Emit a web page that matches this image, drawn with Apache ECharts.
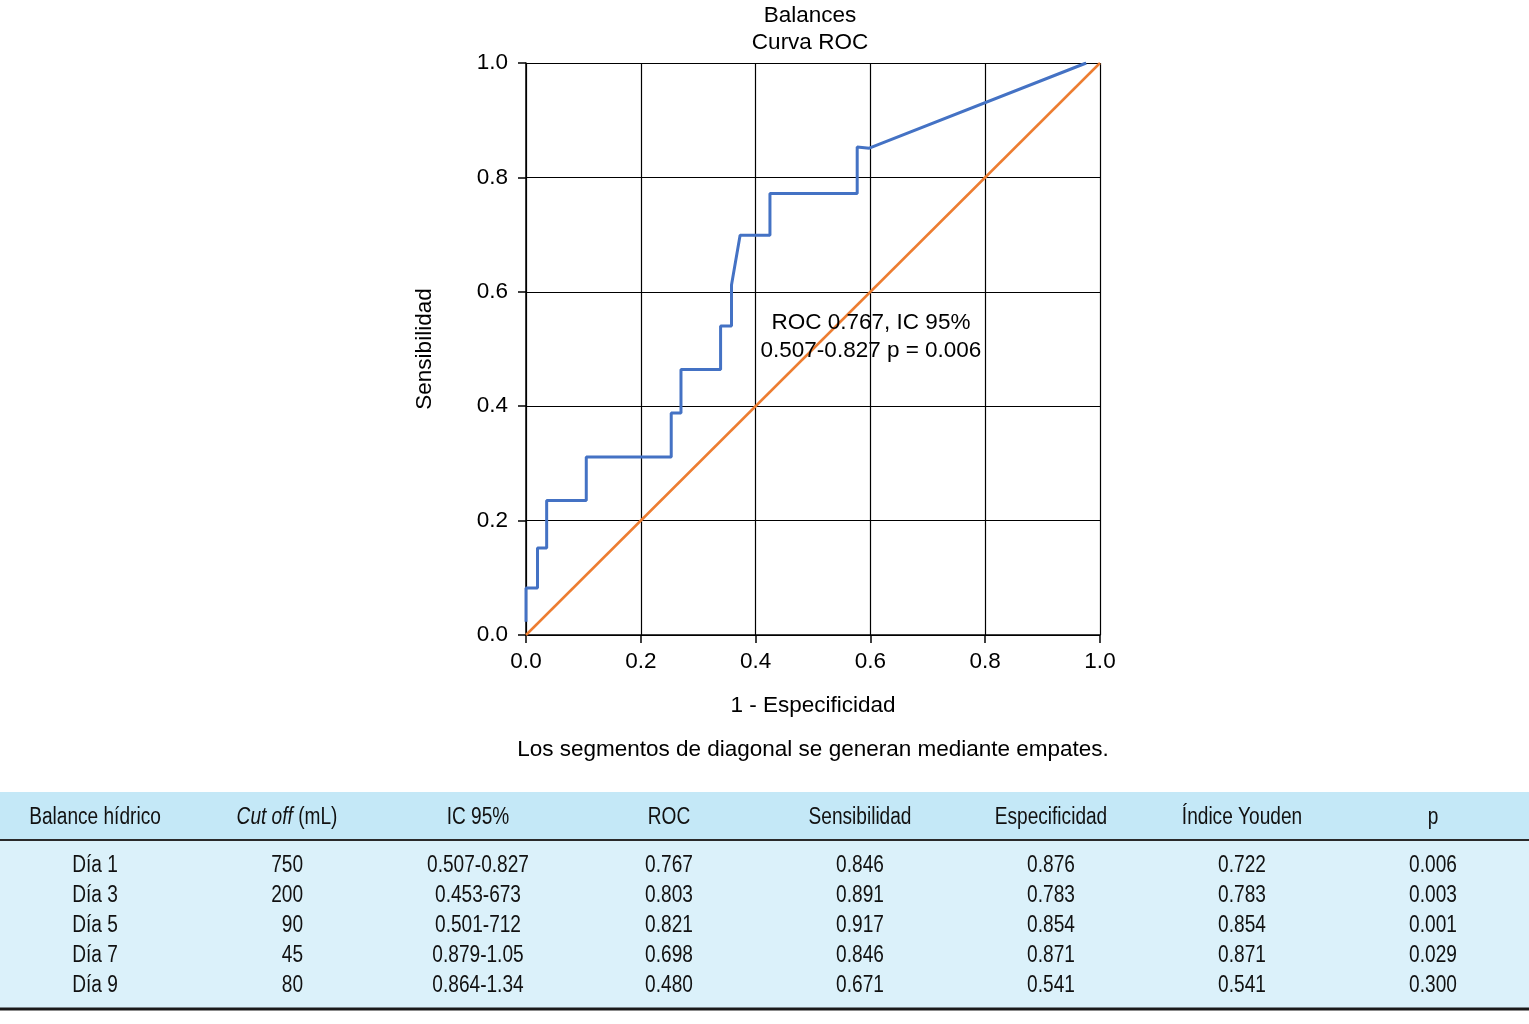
<!DOCTYPE html>
<html><head><meta charset="utf-8">
<script src="https://cdn.jsdelivr.net/npm/echarts@6/dist/echarts.min.js"></script>
<style>html,body{margin:0;padding:0;background:#fff}#c{width:1529px;height:1024px}</style>
</head><body><div id="c"></div>
<script>
// ROC curve points (1 - specificity, sensitivity)
const fpr = [0, 0, 0.020, 0.020, 0.036, 0.036, 0.105, 0.105, 0.253, 0.253, 0.270, 0.270, 0.339, 0.339, 0.358, 0.358, 0.373, 0.425, 0.425, 0.577, 0.577, 0.598, 0.976];
const tpr = [0.023, 0.082, 0.082, 0.152, 0.152, 0.235, 0.235, 0.311, 0.311, 0.388, 0.388, 0.464, 0.464, 0.540, 0.540, 0.612, 0.699, 0.699, 0.772, 0.772, 0.853, 0.851, 1.0];
const diagX = [0, 1];
const diagY = [0, 1];

const titleLines = ['Balances', 'Curva ROC'];
const xName = '1 - Especificidad';
const yName = 'Sensibilidad';
const footnote = 'Los segmentos de diagonal se generan mediante empates.';
const annotLines = ['ROC 0.767, IC 95%', '0.507-0.827 p = 0.006'];
const annotAt = [0.601, 0.522];

// table
const tableHeaders = ['Balance hídrico', 'Cut off (mL)', 'IC 95%', 'ROC', 'Sensibilidad', 'Especificidad', 'Índice Youden', 'p'];
const dias = ['Día 1', 'Día 3', 'Día 5', 'Día 7', 'Día 9'];
const cutoffs = ['750', '200', '90', '45', '80'];
const ic95 = ['0.507-0.827', '0.453-673', '0.501-712', '0.879-1.05', '0.864-1.34'];
const rocVals = ['0.767', '0.803', '0.821', '0.698', '0.480'];
const sensib = ['0.846', '0.891', '0.917', '0.846', '0.671'];
const especif = ['0.876', '0.783', '0.854', '0.871', '0.541'];
const youden = ['0.722', '0.783', '0.854', '0.871', '0.541'];
const pVals = ['0.006', '0.003', '0.001', '0.029', '0.300'];

const FONT = '"Liberation Sans", Arial, Helvetica, sans-serif';
const TFONT = '"Liberation Sans", Arial, sans-serif';
const FS = 22.5;
const TFS = 23;
const TSX = 0.83;

const chart = echarts.init(document.getElementById('c'));

const colCenters = [95, 287, 478, 669, 860, 1051, 1242, 1433];
const cols = [dias, cutoffs, ic95, rocVals, sensib, especif, youden, pVals];
const graphics = [
  {type:'rect', shape:{x:0, y:792, width:1529, height:48}, style:{fill:'#c4e8f7'}, silent:true},
  {type:'rect', shape:{x:0, y:840, width:1529, height:169}, style:{fill:'#dbf1fa'}, silent:true},
  {type:'line', shape:{x1:0, y1:840, x2:1529, y2:840}, style:{stroke:'#2a2a2a', lineWidth:2}},
  {type:'line', shape:{x1:0, y1:1009, x2:1529, y2:1009}, style:{stroke:'#1a1a1a', lineWidth:3}},
  {type:'text', x:813, y:750, style:{text:footnote, align:'center', verticalAlign:'middle', font:FS + 'px ' + FONT, fill:'#000'}}
];
titleLines.forEach((t, i) => {
  graphics.push({type:'text', x:810, y:16 + i * 27, style:{text:t, align:'center', verticalAlign:'middle', font:FS + 'px ' + FONT, fill:'#000'}});
});
function cell(text, x, y, align, rich) {
  const st = {text:text, align:align, verticalAlign:'middle', font:TFS + 'px ' + TFONT, fill:'#111'};
  if (rich) st.rich = rich;
  return {type:'text', x:x, y:y, scaleX:TSX, style:st};
}
tableHeaders.forEach((h, i) => {
  if (i === 1) {
    graphics.push(cell('{i|Cut off} (mL)', colCenters[i], 818, 'center',
      {i:{fontStyle:'italic', fontSize:TFS, fontFamily:TFONT, fill:'#111'}}));
  } else {
    graphics.push(cell(h, colCenters[i], 818, 'center'));
  }
});
cols.forEach((col, i) => {
  col.forEach((v, r) => {
    const y = 866 + r * 30;
    if (i === 1) graphics.push(cell(v, 303, y, 'right'));
    else graphics.push(cell(v, colCenters[i], y, 'center'));
  });
});

const lbl = (margin) => ({color:'#000', fontSize:FS, fontFamily:FONT, margin:margin, formatter:v => v.toFixed(1)});
const valueAxis = (extra) => Object.assign({
  type:'value', min:0, max:1, interval:0.2,
  axisLine:{show:true, onZero:false, lineStyle:{color:'#000', width:1.5}},
  axisTick:{show:true, length:8, lineStyle:{color:'#000', width:1.5}},
  splitLine:{show:true, lineStyle:{color:'#000', width:1.2}},
  nameLocation:'middle',
  nameTextStyle:{color:'#000', fontSize:FS, fontFamily:FONT}
}, extra);

chart.setOption({
  animation:false,
  backgroundColor:'#fff',
  grid:{left:526, right:429, top:63, bottom:389},
  xAxis: valueAxis({name:xName, nameGap:59, axisLabel:lbl(15)}),
  yAxis: valueAxis({name:yName, nameGap:90, axisLabel:lbl(18)}),
  series:[
    {type:'line', data:diagX.map((x, i) => [x, diagY[i]]), showSymbol:false, lineStyle:{color:'#ED7D31', width:2.5}, z:3},
    {type:'line', data:fpr.map((x, i) => [x, tpr[i]]), showSymbol:false, lineStyle:{color:'#4472C4', width:3}, z:4}
  ],
  graphic: graphics
});

const p = chart.convertToPixel({gridIndex:0}, annotAt);
chart.setOption({graphic: graphics.concat([
  {type:'text', x:p[0], y:p[1], z:10, style:{text:annotLines.join('\n'), align:'center', verticalAlign:'middle', font:FS + 'px ' + FONT, lineHeight:28, fill:'#000'}}
])});
</script></body></html>
